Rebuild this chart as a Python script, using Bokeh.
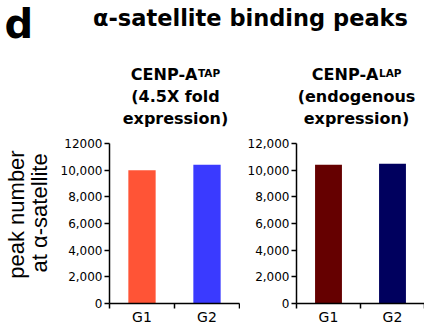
import math
from bokeh.plotting import figure
from bokeh.layouts import column, row
from bokeh.models import Range1d, FixedTicker, Label
from bokeh.embed import file_html
from bokeh.resources import INLINE

# ---- data ----
categories = ["G1", "G2"]
tap_values = [10000, 10400]
lap_values = [10400, 10480]
tap_colors = ["#FF5436", "#3A3AFF"]
lap_colors = ["#650000", "#00005E"]
y_ticks = [0, 2000, 4000, 6000, 8000, 10000, 12000]
tap_tick_labels = ["0", "2,000", "4,000", "6,000", "8,000", "10,000", "12000"]
lap_tick_labels = ["0", "2,000", "4,000", "6,000", "8,000", "10,000", "12,000"]
y_max = 12000

FONT = "DejaVu Sans"
LABEL_FONT = "Liberation Sans"

PAGE_BOTTOM = {}


def blank(name, width, height, top):
    # a figure whose data units are page pixels (y measured upward from its bottom)
    b = figure(width=width, height=height, x_range=Range1d(0, width),
               y_range=Range1d(0, height),
               output_backend="svg", toolbar_location=None,
               x_axis_type=None, y_axis_type=None, min_border=0)
    b.outline_line_color = None
    b.grid.visible = False
    PAGE_BOTTOM[name] = top + height
    return b


def add_label(p, name, x, y, text, size, bold=True, align="center", font=FONT, angle=0.0):
    # x, y: page position of the text's centre line (vertical middle of its box)
    p.add_layout(Label(x=x, y=PAGE_BOTTOM[name] - y, text=text, text_font=font,
                       text_font_size="%gpx" % size,
                       text_font_style="bold" if bold else "normal",
                       text_align=align, text_baseline="middle",
                       text_color="black", angle=angle))


def add_text(p, name, x, baseline, text, size, **kw):
    add_label(p, name, x, baseline - 0.35 * size, text, size, **kw)


# ---- header (title + panel subtitles) ----
hdr = blank("hdr", 424, 131, 0)
add_text(hdr, "hdr", 4, 37.2, "d", 40, align="left")
add_text(hdr, "hdr", 250, 25, "\u03b1-satellite binding peaks", 22.5)


def subtitle(cx, sup, line2, line3):
    add_text(hdr, "hdr", cx + 21.9, 80, "CENP-A", 16, align="right")
    add_text(hdr, "hdr", cx + 22.5, 76, sup, 10.5, align="left")
    add_text(hdr, "hdr", cx, 102, line2, 16)
    add_text(hdr, "hdr", cx, 124, line3, 16)


subtitle(175, "TAP", "(4.5X fold", "expression)")
subtitle(356, "LAP", "(endogenous", "expression)")

# ---- y axis title column (rotated, reading upward) ----
ylab = blank("ylab", 56, 196, 131)
add_label(ylab, "ylab", 16, 218, "peak number", 22, bold=False, font=LABEL_FONT, angle=math.pi / 2)
add_label(ylab, "ylab", 39, 216, "at \u03b1-satellite", 22, bold=False, font=LABEL_FONT, angle=math.pi / 2)


# ---- bar panels ----
def panel(values, colors, tick_labels, width, border_left, border_right):
    n = len(categories)
    p = figure(width=width, height=196, x_range=Range1d(0, n), y_range=Range1d(0, y_max),
               output_backend="svg", toolbar_location=None,
               min_border_left=border_left, min_border_right=border_right,
               min_border_top=12, min_border_bottom=24)
    xs = [i + 0.5 for i in range(n)]
    p.vbar(x=xs, top=values, bottom=0, width=0.42, fill_color=colors, line_color=None)
    p.grid.visible = False
    p.outline_line_color = None

    xa = p.xaxis[0]
    xa.ticker = FixedTicker(ticks=xs, minor_ticks=list(range(n + 1)))
    xa.major_label_overrides = {x: c for x, c in zip(xs, categories)}
    xa.major_tick_out = 0
    xa.major_tick_in = 0
    xa.minor_tick_out = 5
    xa.minor_tick_in = 0
    xa.minor_tick_line_width = 1.5
    xa.minor_tick_line_color = "black"
    xa.axis_line_width = 1.5
    xa.axis_line_color = "black"
    xa.major_label_text_font = FONT
    xa.major_label_text_font_size = "14px"
    xa.major_label_text_color = "black"
    xa.major_label_standoff = 0

    ya = p.yaxis[0]
    ya.ticker = FixedTicker(ticks=y_ticks, minor_ticks=[])
    ya.major_label_overrides = {t: s for t, s in zip(y_ticks, tick_labels)}
    ya.major_tick_out = 5
    ya.major_tick_in = 0
    ya.major_tick_line_width = 1.5
    ya.major_tick_line_color = "black"
    ya.minor_tick_out = 0
    ya.minor_tick_in = 0
    ya.axis_line_width = 1.5
    ya.axis_line_color = "black"
    ya.major_label_text_font = FONT
    ya.major_label_text_font_size = "12px"
    ya.major_label_text_color = "black"
    ya.major_label_standoff = 2
    return p


left = panel(tap_values, tap_colors, tap_tick_labels, 184, 53, 1)
right = panel(lap_values, lap_colors, lap_tick_labels, 184, 56, 0)

p = column(hdr, row(ylab, left, right))

open("out.html", "w").write(file_html(p, INLINE))
